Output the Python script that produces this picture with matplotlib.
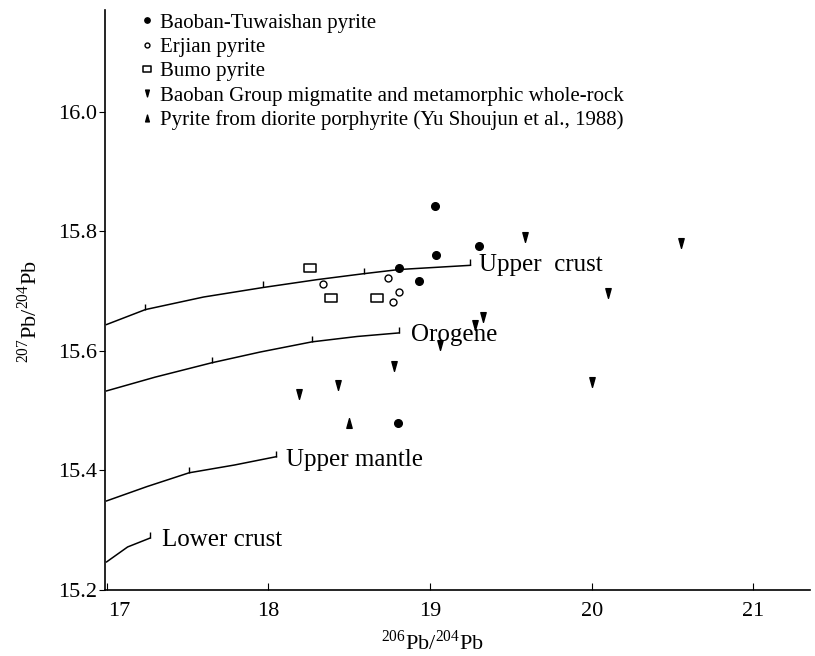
import numpy as np
import matplotlib
matplotlib.use('Agg')
import matplotlib.pyplot as plt
import matplotlib.transforms as mtransforms
from matplotlib.path import Path

plt.rcParams['font.family'] = ['Liberation Serif', 'DejaVu Serif']
plt.rcParams['mathtext.fontset'] = 'custom'
plt.rcParams['mathtext.rm'] = 'Liberation Serif'

# sample points, 206Pb/204Pb vs 207Pb/204Pb
baoban_x = [19.03, 19.30, 19.04, 18.81, 18.93, 18.80]
baoban_y = [15.843, 15.776, 15.761, 15.738, 15.716, 15.480]

erjian_x = [18.34, 18.74, 18.81, 18.77]
erjian_y = [15.711, 15.721, 15.699, 15.682]

bumo_x = [18.26, 18.39, 18.67]
bumo_y = [15.738, 15.689, 15.689]

migmatite_x = [19.59, 20.55, 20.10, 19.33, 19.28, 19.06, 18.78, 18.43, 20.00, 18.19]
migmatite_y = [15.790, 15.781, 15.697, 15.656, 15.644, 15.610, 15.574, 15.543, 15.548, 15.527]

diorite_x = [18.50]
diorite_y = [15.480]

upper_crust_x = [17.00, 17.24, 17.60, 17.97, 18.30, 18.59, 18.81, 19.25]
upper_crust_y = [15.644, 15.669, 15.690, 15.706, 15.719, 15.729, 15.736, 15.743]
orogene_x = [17.00, 17.30, 17.65, 17.95, 18.27, 18.55, 18.81]
orogene_y = [15.533, 15.556, 15.580, 15.598, 15.615, 15.624, 15.630]
upper_mantle_x = [17.00, 17.25, 17.51, 17.79, 18.05]
upper_mantle_y = [15.349, 15.373, 15.396, 15.409, 15.423]
lower_crust_x = [17.00, 17.13, 17.27]
lower_crust_y = [15.247, 15.272, 15.287]

# age tick marks on the curves
tick_x = [17.24, 17.97, 18.59, 19.25, 17.65, 18.27, 18.81, 17.51, 18.05, 17.27]
tick_y = [15.669, 15.706, 15.729, 15.743, 15.580, 15.615, 15.630, 15.396, 15.423, 15.287]

curve_labels = ['Upper  crust', 'Orogene', 'Upper mantle', 'Lower crust']
label_x = [19.30, 18.88, 18.11, 17.34]
label_y = [15.743, 15.627, 15.418, 15.284]

legend_labels = ['Baoban-Tuwaishan pyrite', 'Erjian pyrite', 'Bumo pyrite',
                 'Baoban Group migmatite and metamorphic whole-rock',
                 'Pyrite from diorite porphyrite (Yu Shoujun et al., 1988)']

rect = Path([(-1, -0.65), (1, -0.65), (1, 0.65), (-1, 0.65), (-1, -0.65)],
            [Path.MOVETO, Path.LINETO, Path.LINETO, Path.LINETO, Path.CLOSEPOLY])
tri_down = Path([(-0.55, 1), (0.55, 1), (0, -1), (-0.55, 1)],
                [Path.MOVETO, Path.LINETO, Path.LINETO, Path.CLOSEPOLY])
tri_up = Path([(-0.55, -1), (0.55, -1), (0, 1), (-0.55, -1)],
              [Path.MOVETO, Path.LINETO, Path.LINETO, Path.CLOSEPOLY])

fig = plt.figure(figsize=(8.15, 6.56), dpi=100)
ax = fig.add_axes([105/815, 66/656, 705/815, 580/656])

for cx, cy in [(upper_crust_x, upper_crust_y), (orogene_x, orogene_y),
               (upper_mantle_x, upper_mantle_y), (lower_crust_x, lower_crust_y)]:
    ax.plot(cx, cy, color='black', lw=1.1)
ax.plot(tick_x, tick_y, ls='none', marker=2, ms=4, mew=1.0, color='black')

for t, lx, ly in zip(curve_labels, label_x, label_y):
    ax.text(lx, ly, t, fontsize=18, ha='left', va='center')

ax.plot(baoban_x, baoban_y, 'o', ms=5.5, color='black', ls='none', label=legend_labels[0])
ax.plot(erjian_x, erjian_y, 'o', ms=5, mfc='white', mec='black', mew=1.0, ls='none', label=legend_labels[1])
ax.plot(bumo_x, bumo_y, marker=rect, ms=9, mfc='white', mec='black', mew=1.1, ls='none', label=legend_labels[2])
ax.plot(migmatite_x, migmatite_y, marker=tri_down, ms=7, color='black', ls='none', label=legend_labels[3])
ax.plot(diorite_x, diorite_y, marker=tri_up, ms=7, color='black', ls='none', label=legend_labels[4])

leg = ax.legend(loc='upper left', bbox_to_anchor=(140/815, 1 - 13/656), bbox_transform=fig.transFigure,
                frameon=False, fontsize=15, handlelength=0.7, handletextpad=0.25,
                labelspacing=0.23, markerscale=0.7, borderpad=0, borderaxespad=0)

ax.set_xlim(16.99, 21.35)
ax.set_ylim(15.2, 16.17)
ax.set_xticks([17, 18, 19, 20, 21])
ax.set_yticks([15.2, 15.4, 15.6, 15.8, 16.0])
ax.set_yticklabels(['15.2', '15.4', '15.6', '15.8', '16.0'])
ax.spines['top'].set_visible(False)
ax.spines['right'].set_visible(False)
ax.spines['left'].set_linewidth(1.2)
ax.spines['bottom'].set_linewidth(1.2)
ax.tick_params(axis='x', direction='in', length=5, labelsize=16, pad=9)
ax.tick_params(axis='y', direction='out', length=4, labelsize=16, pad=2)

# first x label sits a bit right of the corner
first = ax.get_xticklabels()[0]
first.set_transform(first.get_transform() + mtransforms.ScaledTranslation(13/100, 0, fig.dpi_scale_trans))

ax.set_xlabel(r'$^{206}$Pb/$^{204}$Pb', fontsize=16)
ax.set_ylabel(r'$^{207}$Pb/$^{204}$Pb', fontsize=16)
ax.xaxis.set_label_coords(0.465, -0.07)
ax.yaxis.set_label_coords(-0.09, 0.48)

fig.savefig('out.png', dpi=100)
